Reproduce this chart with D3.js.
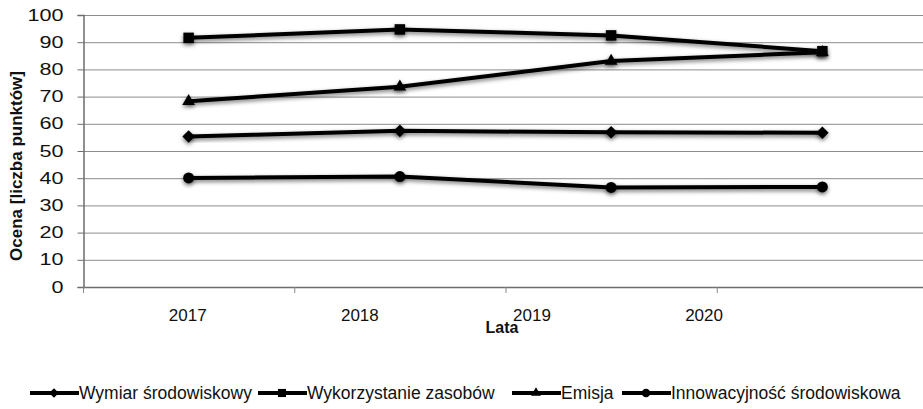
<!DOCTYPE html>
<html><head><meta charset="utf-8">
<script src="https://cdn.jsdelivr.net/npm/d3@7/dist/d3.min.js"></script>
<style>body{margin:0;background:#fff}svg{display:block;font-family:"Liberation Sans",Arial,sans-serif}</style>
</head><body>
<svg id="c" width="923" height="409"></svg>
<script>
const years = ["2017","2018","2019","2020"];
const yTicks = [0,10,20,30,40,50,60,70,80,90,100];
const seriesNames = ["Wymiar środowiskowy","Wykorzystanie zasobów","Emisja","Innowacyjność środowiskowa"];
const symbols = ["diamond","square","triangle","circle"];
const wymiar = [55.3, 57.4, 56.9, 56.7];
const wykorzystanie = [91.6, 94.7, 92.5, 86.7];
const emisja = [68.3, 73.6, 83.1, 86.3];
const innowacyjnosc = [40.1, 40.6, 36.6, 36.8];
const allValues = [wymiar, wykorzystanie, emisja, innowacyjnosc];

const svg = d3.select("#c");
const L = 83, R = 928, T = 15, B = 287;
const x = d3.scaleBand().domain(years).range([L, R]);
const y = d3.scaleLinear().domain([0,100]).range([B, T]);
// tick label positions (as laid out in the original)
const xl = d3.scalePoint().domain(years).range([L + 0.124*(R-L), L + 0.735*(R-L)]);

const defs = svg.append("defs");
const f = defs.append("filter").attr("id","sh").attr("x","-100%").attr("y","-100%").attr("width","300%").attr("height","300%");
f.append("feDropShadow").attr("dx",0).attr("dy",2).attr("stdDeviation",2).attr("flood-color","#000").attr("flood-opacity",0.55);

// gridlines
svg.append("g").selectAll("line").data(yTicks.slice(1)).join("line")
  .attr("x1",L).attr("x2",923).attr("y1",d=>y(d)+0.5).attr("y2",d=>y(d)+0.5)
  .attr("stroke","#8c8c8c").attr("stroke-width",1);

// y axis
const ya = svg.append("g").attr("transform",`translate(${L+0.5},0)`)
  .call(d3.axisLeft(y).tickValues(yTicks).tickSize(6).tickPadding(14));
ya.select(".domain").attr("stroke","#6e6e6e").attr("stroke-width",1.5);
ya.selectAll(".tick line").attr("stroke","#6e6e6e");
ya.selectAll(".tick text").attr("font-size",16).attr("fill","#111").attr("font-family","Liberation Sans, Arial, sans-serif")
  .attr("textLength",d=>String(d).length*12).attr("lengthAdjust","spacingAndGlyphs");

// x axis line and ticks
svg.append("line").attr("x1",L).attr("x2",923).attr("y1",B+0.5).attr("y2",B+0.5).attr("stroke","#6e6e6e").attr("stroke-width",1.5);
svg.append("g").selectAll("line").data(years).join("line")
  .attr("x1",d=>x(d)+0.5).attr("x2",d=>x(d)+0.5).attr("y1",B).attr("y2",B+6).attr("stroke","#888");
svg.append("g").selectAll("text").data(years).join("text")
  .attr("x",d=>xl(d)).attr("y",B+34).attr("text-anchor","middle").attr("font-size",17).attr("fill","#111").text(d=>d);

// titles
svg.append("text").attr("transform",`translate(22,166) rotate(-90)`).attr("text-anchor","middle")
  .attr("font-size",17).attr("font-weight","bold").attr("fill","#111").text("Ocena [liczba punktów]");
svg.append("text").attr("x",502).attr("y",333).attr("text-anchor","middle")
  .attr("font-size",16).attr("font-weight","bold").attr("fill","#111").text("Lata");

const symType = {diamond:d3.symbolDiamond2, square:d3.symbolSquare, triangle:d3.symbolTriangle, circle:d3.symbolCircle};
const symSize = {diamond:100, square:110, triangle:70, circle:95};
const cx = d => x(d) + x.bandwidth()/2;
const line = d3.line().x(d=>cx(d.year)).y(d=>y(d.v));

allValues.forEach((vals,i)=>{
  const pts = years.map((yr,j)=>({year:yr, v:vals[j]}));
  const g = svg.append("g");
  g.append("path").datum(pts).attr("d",line).attr("fill","none").attr("stroke","#000").attr("stroke-width",4).attr("stroke-linejoin","round").attr("filter","url(#sh)");
  g.selectAll("path.m").data(pts).join("path").attr("class","m")
    .attr("transform",d=>`translate(${cx(d.year)},${y(d.v)})`)
    .attr("d",d3.symbol().type(symType[symbols[i]]).size(symSize[symbols[i]]))
    .attr("fill","#000").attr("filter","url(#sh)");
});

// legend
const legX = [30, 258, 512, 622];
const lg = svg.append("g");
seriesNames.forEach((n,i)=>{
  const g = lg.append("g").attr("transform",`translate(${legX[i]},393)`);
  g.append("line").attr("x1",0).attr("x2",49).attr("stroke","#000").attr("stroke-width",4);
  g.append("path").attr("transform","translate(24,0)").attr("d",d3.symbol().type(symType[symbols[i]]).size(symSize[symbols[i]]*0.6)).attr("fill","#000");
  g.append("text").attr("x",49).attr("y",6).attr("font-size",17.5).attr("fill","#111").text(n);
});
</script>
</body></html>
